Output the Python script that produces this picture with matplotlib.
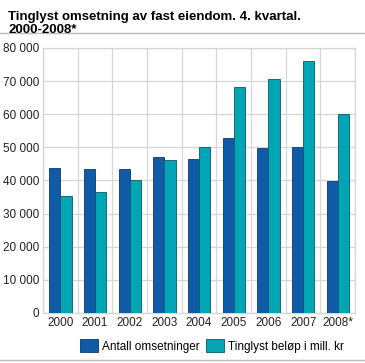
import matplotlib.pyplot as plt
import numpy as np
from matplotlib.ticker import FuncFormatter

years = ["2000", "2001", "2002", "2003", "2004", "2005", "2006", "2007", "2008*"]
antall = [43700, 43400, 43300, 47000, 46600, 52700, 49900, 50000, 39800]
belop = [35400, 36600, 40100, 46100, 50200, 68200, 70600, 76000, 60000]

plt.rcParams["font.family"] = ["Liberation Sans", "DejaVu Sans"]

fig = plt.figure(figsize=(3.65, 3.63), dpi=100)
ax = fig.add_axes([0.118, 0.138, 0.855, 0.730])

x = np.arange(len(years))
w = 0.32
ax.bar(x - w / 2, antall, w, color="#0f5ba8", edgecolor="#0a3a6a", linewidth=0.6,
       label="Antall omsetninger", zorder=3)
ax.bar(x + w / 2, belop, w, color="#00a6b6", edgecolor="#0a5a60", linewidth=0.6,
       label="Tinglyst beløp i mill. kr", zorder=3)

ax.set_xlim(-0.5, len(years) - 0.5)
ax.set_ylim(0, 80000)
ax.set_yticks(range(0, 80001, 10000))
ax.yaxis.set_major_formatter(FuncFormatter(lambda v, p: f"{int(v):,}".replace(",", " ")))
ax.set_xticks(x)
ax.set_xticklabels(years)
ax.set_xticks(np.arange(-0.5, len(years)), minor=True)
ax.tick_params(axis="both", which="both", length=0, labelsize=8.5, colors="#222222", pad=3)
ax.grid(True, axis="y", color="#d4d6dc", linewidth=0.9, zorder=0)
ax.grid(True, axis="x", which="minor", color="#d4d6dc", linewidth=0.9, zorder=0)
for s in ax.spines.values():
    s.set_color("#d4d6dc")
    s.set_linewidth(0.9)

fig.text(0.022, 0.97, "Tinglyst omsetning av fast eiendom. 4. kvartal.\n2000-2008*",
         fontsize=9.5, fontweight="bold", va="top", ha="left", linespacing=1.15)
fig.add_artist(plt.Line2D([0.0, 1.0], [0.91, 0.91], color="#bbbbbb", linewidth=1))
fig.add_artist(plt.Line2D([0.0, 1.0], [0.008, 0.008], color="#bbbbbb", linewidth=1))

leg = fig.legend(loc="center", bbox_to_anchor=(0.58, 0.047), ncol=2, frameon=False,
                 fontsize=8.5, handlelength=1.6, handleheight=1.3, handletextpad=0.3,
                 columnspacing=0.5)

fig.savefig("out.png", dpi=100)
